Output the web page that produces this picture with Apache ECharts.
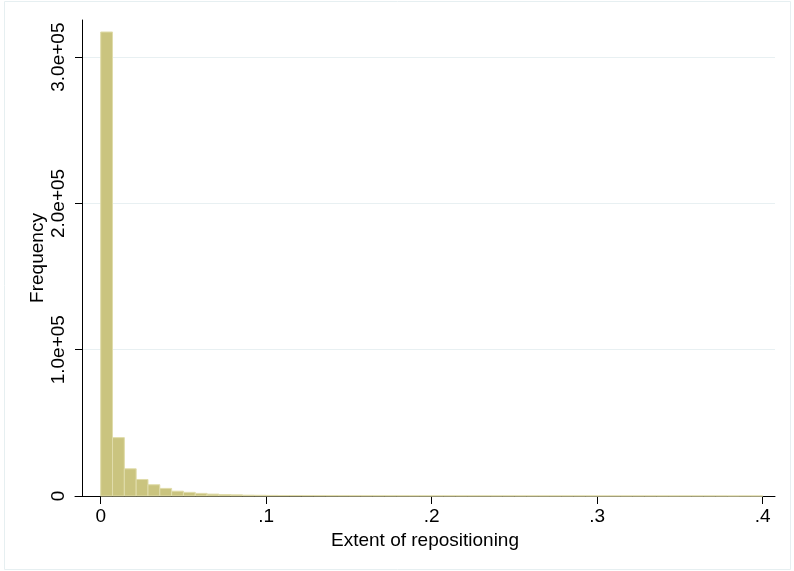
<!DOCTYPE html>
<html>
<head>
<meta charset="utf-8">
<script src="https://cdn.jsdelivr.net/npm/echarts@6/dist/echarts.min.js"></script>
<style>html,body{margin:0;padding:0;background:#fff}#c{width:794px;height:571px}</style>
</head>
<body>
<div id="c"></div>
<script>
// Histogram: 56 bins from 0 to 0.4
var binWidth = 0.4 / 56;
var binCounts = [
  317200, 39900, 18600, 11300, 7700, 5200, 3300, 2500, 1800, 1300,
  1000, 800, 560, 470, 400, 340, 300, 260, 230, 210,
  190, 170, 150, 140, 130, 120, 110, 100, 95, 90,
  85, 80, 75, 70, 65, 60, 58, 55, 52, 50,
  48, 45, 42, 40, 38, 35, 33, 30, 28, 26,
  24, 22, 20, 0, 15, 12
];
var xTickValues = [0, 0.1, 0.2, 0.3, 0.4];
var xTickLabels = ['0', '.1', '.2', '.3', '.4'];
var yTickValues = [0, 100000, 200000, 300000];
var yTickLabels = ['0', '1.0e+05', '2.0e+05', '3.0e+05'];
var gridValues = [100000, 200000, 300000];
var xTitle = 'Extent of repositioning';
var yTitle = 'Frequency';

var FONT = '"Liberation Sans", Helvetica, Arial, sans-serif';

var data = binCounts.map(function (v, i) { return [i * binWidth, (i + 1) * binWidth, v]; });

var chart = echarts.init(document.getElementById('c'), null, {renderer: 'canvas'});
chart.setOption({
  animation: false,
  backgroundColor: '#ffffff',
  graphic: [{
    type: 'rect', shape: {x: 4.5, y: 1.5, width: 786, height: 568},
    style: {fill: 'none', stroke: '#e6eff1', lineWidth: 1}, silent: true, z: -10
  }, {
    type: 'text', x: 37.5, y: 258, rotation: Math.PI / 2, silent: true,
    style: {text: yTitle, fill: '#000', font: '19px ' + FONT, textAlign: 'center', textVerticalAlign: 'middle'}
  }],
  grid: {left: 75, right: 19, top: 20, bottom: 75, containLabel: false},
  xAxis: {
    type: 'value', min: -0.01553, max: 0.40743,
    name: xTitle, nameLocation: 'middle', nameGap: 35,
    nameTextStyle: {fontFamily: FONT, fontSize: 19, color: '#000'},
    axisLine: {show: true, onZero: false, lineStyle: {color: '#000', width: 1}},
    axisTick: {show: true, length: 8, customValues: xTickValues, lineStyle: {color: '#000', width: 1}},
    axisLabel: {
      customValues: xTickValues, margin: 11, fontFamily: FONT, fontSize: 19, color: '#000',
      formatter: function (v) { var i = xTickValues.indexOf(v); return i >= 0 ? xTickLabels[i] : ''; }
    },
    splitLine: {show: false}
  },
  yAxis: {
    type: 'value', min: 0, max: 325400, offset: -7,
    axisLine: {show: true, onZero: false, lineStyle: {color: '#000', width: 1}},
    axisTick: {show: true, length: 7, customValues: yTickValues, lineStyle: {color: '#000', width: 1}},
    axisLabel: {
      customValues: yTickValues, rotate: 90, margin: 14, fontFamily: FONT, fontSize: 19, color: '#000',
      formatter: function (v) { var i = yTickValues.indexOf(v); return i >= 0 ? yTickLabels[i] : ''; }
    },
    splitLine: {show: false}
  },
  series: [{
    type: 'custom',
    data: data,
    encode: {x: [0, 1], y: 2},
    renderItem: function (params, api) {
      var p0 = api.coord([api.value(0), 0]);
      var p1 = api.coord([api.value(1), api.value(2)]);
      return {
        type: 'rect',
        shape: {x: p0[0], y: p1[1], width: p1[0] - p0[0], height: p0[1] - p1[1]},
        style: {fill: '#cac47f', stroke: '#e0dcab', lineWidth: 1}
      };
    },
    markLine: {
      silent: true, symbol: 'none', label: {show: false},
      lineStyle: {color: '#e8f0f2', width: 1, type: 'solid'},
      data: gridValues.map(function (v) { return {yAxis: v}; }),
      z: -1
    },
    z: 2
  }]
});
</script>
</body>
</html>
